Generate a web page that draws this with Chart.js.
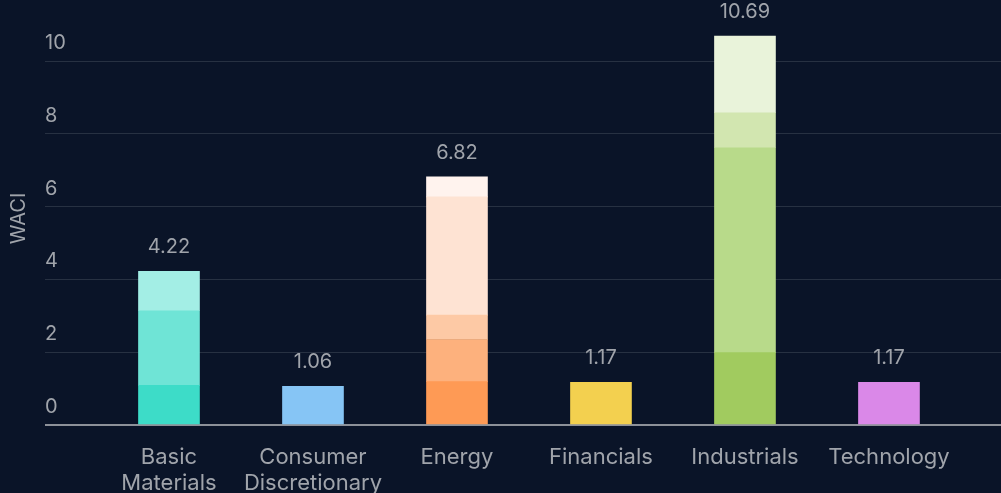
<!DOCTYPE html>
<html>
<head>
<meta charset="utf-8">
<script src="https://cdn.jsdelivr.net/npm/chart.js@4"></script>
<style>
  html, body { margin: 0; padding: 0; background: #0a1428; }
  #wrap { width: 1001px; height: 493px; position: relative; }
</style>
</head>
<body>
<div id="wrap"><canvas id="waciChart"></canvas></div>
<script>
// sectors along the x axis (multi-line names split into rows)
const sectors = [['Basic', 'Materials'], ['Consumer', 'Discretionary'], 'Energy', 'Financials', 'Industrials', 'Technology'];
// WACI total per sector, printed above each stack
const totals = [4.22, 1.06, 6.82, 1.17, 10.69, 1.17];
// stacked layers, bottom to top
const layer1 = [1.09, 1.06, 1.19, 1.17, 1.99, 1.17];
const layer2 = [2.05, null, 1.16, null, 5.63, null];
const layer3 = [1.08, null, 0.67, null, 0.96, null];
const layer4 = [null, null, 3.25, null, 2.11, null];
const layer5 = [null, null, 0.55, null, null, null];
const yTicks = [0, 2, 4, 6, 8, 10];

// per-sector colour ramps, darkest at the bottom
const colours1 = ['#3ddcc8', '#86c5f5', '#fe9a55', '#f3d04f', '#a1cb5f', '#da88e8'];
const colours2 = ['#6fe4d6', null, '#fdb17d', null, '#b8da8a', null];
const colours3 = ['#a3eee5', null, '#fdc9a5', null, '#d2e6b0', null];
const colours4 = [null, null, '#fee3d3', null, '#e9f3da', null];
const colours5 = [null, null, '#fff3ee', null, null, null];

const textColor = '#a0a4ab';
const fontFamily = 'Inter, "Noto Sans", sans-serif';

const layers = [layer1, layer2, layer3, layer4, layer5];
const colours = [colours1, colours2, colours3, colours4, colours5];

const totalsLabels = {
  id: 'totalsLabels',
  afterDatasetsDraw(chart) {
    const { ctx, scales: { x, y } } = chart;
    ctx.save();
    ctx.font = `20px ${fontFamily}`;
    ctx.fillStyle = textColor;
    ctx.textAlign = 'center';
    ctx.textBaseline = 'middle';
    totals.forEach((total, i) => {
      ctx.fillText(total.toString(), x.getPixelForValue(i), y.getPixelForValue(total) - 24);
    });
    ctx.restore();
  }
};

new Chart(document.getElementById('waciChart'), {
  type: 'bar',
  data: {
    datasets: layers.map((layer, n) => ({
      label: `Layer ${n + 1}`,
      data: layer.map((v, i) => ({ x: i, y: v })),
      backgroundColor: colours[n],
      barThickness: 61,
      borderWidth: 0
    }))
  },
  options: {
    responsive: true,
    maintainAspectRatio: false,
    animation: false,
    layout: { padding: 0 },
    plugins: {
      legend: { display: false },
      tooltip: { enabled: false }
    },
    scales: {
      x: {
        type: 'linear',
        stacked: true,
        offset: false,
        min: -0.861,
        max: 5.778,
        grid: { display: false, drawTicks: false, offset: false },
        border: { display: false },
        afterFit: scale => { scale.height = 68; },
        ticks: {
          stepSize: 1,
          includeBounds: false,
          autoSkip: false,
          maxRotation: 0,
          padding: 19,
          color: textColor,
          font: { size: 22, family: fontFamily, lineHeight: 1.2 },
          callback: v => Number.isInteger(v) ? sectors[v] : ''
        }
      },
      y: {
        stacked: true,
        min: 0,
        max: 11.35,
        afterFit: scale => { scale.width = 45; },
        afterBuildTicks: scale => { scale.ticks = yTicks.map(value => ({ value })); },
        border: { display: false },
        grid: {
          drawTicks: false,
          color: c => c.tick && c.tick.value === 0 ? '#8d9199' : '#273142',
          lineWidth: c => c.tick && c.tick.value === 0 ? 2 : 1
        },
        title: {
          display: true,
          text: 'WACI',
          color: textColor,
          padding: 7,
          font: { size: 20, family: fontFamily }
        },
        ticks: {
          mirror: true,
          padding: 0,
          labelOffset: -18,
          color: textColor,
          font: { size: 20, family: fontFamily }
        }
      }
    }
  },
  plugins: [totalsLabels]
});
</script>
</body>
</html>
